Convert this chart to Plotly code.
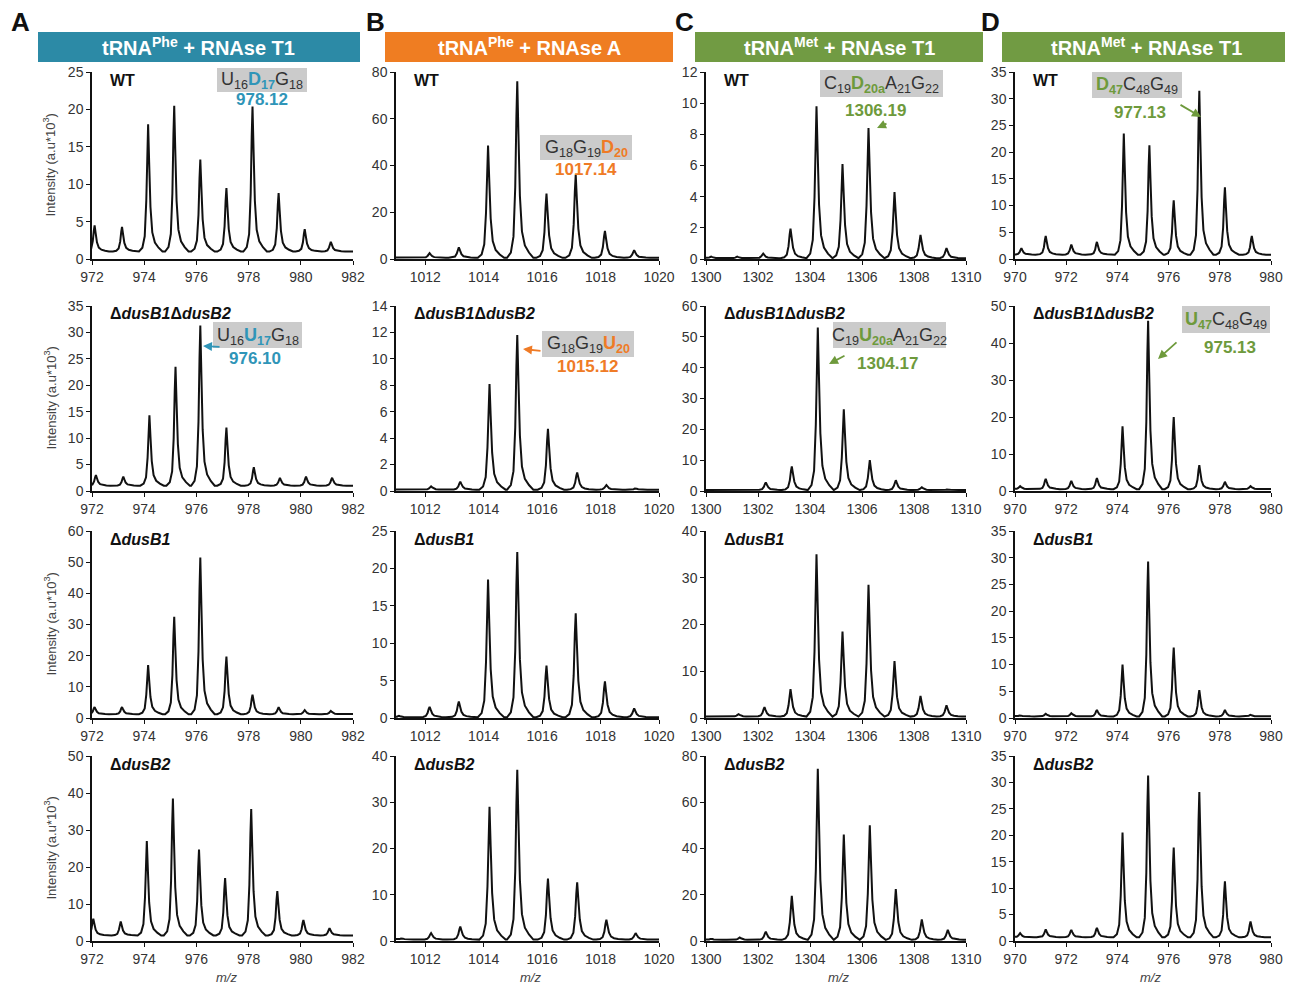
import plotly.graph_objects as go

# page body has an 8px margin, so the figure is drawn 8px in from the window edge
OFF = 8
W, H = 1293 - 2 * OFF, 994 - 2 * OFF


def px(x):
    return (x - OFF) / W


def py(y):
    return 1 - (y - OFF) / H


# ---------------- data: peak apex m/z and intensity (a.u*10^3) ----------------
# column A: tRNAPhe + RNAse T1
a_wt_mz = [972.1, 973.15, 974.15, 975.15, 976.15, 977.15, 978.15, 979.15, 980.15, 981.15]
a_wt_int = [4.5, 4.3, 18.0, 20.5, 13.3, 9.5, 20.4, 8.8, 4.0, 2.3]
a_b1b2_mz = [972.15, 973.2, 974.2, 975.2, 976.15, 977.15, 978.2, 979.2, 980.2, 981.2]
a_b1b2_int = [3.0, 2.7, 14.3, 23.5, 31.3, 12.0, 4.5, 2.5, 2.7, 2.5]
a_b1_mz = [972.1, 973.15, 974.15, 975.15, 976.15, 977.15, 978.15, 979.15, 980.15, 981.15]
a_b1_int = [3.5, 3.5, 17.0, 32.5, 51.5, 19.7, 7.5, 3.5, 2.5, 2.3]
a_b2_mz = [972.05, 973.1, 974.1, 975.1, 976.1, 977.1, 978.1, 979.1, 980.1, 981.1]
a_b2_int = [6.0, 5.3, 27.0, 38.5, 24.7, 17.0, 35.7, 13.5, 5.7, 3.5]
a_base = [1.0, 1.0, 1.2, 1.5]

# column B: tRNAPhe + RNAse A
b_wt_mz = [1012.15, 1013.15, 1014.15, 1015.15, 1016.15, 1017.15, 1018.15, 1019.15]
b_wt_int = [2.5, 5.0, 48.5, 76.0, 28.0, 36.0, 12.0, 3.8]
b_b1b2_mz = [1012.2, 1013.2, 1014.2, 1015.15, 1016.2, 1017.2, 1018.2, 1019.2]
b_b1b2_int = [0.35, 0.7, 8.1, 11.8, 4.7, 1.4, 0.45, 0.2]
b_b1_mz = [1011.1, 1012.15, 1013.15, 1014.15, 1015.15, 1016.15, 1017.15, 1018.15, 1019.15]
b_b1_int = [0.3, 1.5, 2.2, 18.5, 22.2, 7.0, 14.0, 4.9, 1.3]
b_b2_mz = [1011.2, 1012.2, 1013.2, 1014.2, 1015.15, 1016.2, 1017.2, 1018.2, 1019.2]
b_b2_int = [0.6, 1.7, 3.1, 29.0, 37.0, 13.5, 12.7, 4.6, 1.7]
b_base = [0.5, 0.1, 0.1, 0.3]

# column C: tRNAMet + RNAse T1 (C19D20aA21G22)
c_wt_mz = [1300.2, 1301.2, 1302.2, 1303.25, 1304.25, 1305.25, 1306.25, 1307.25, 1308.25, 1309.25]
c_wt_int = [0.15, 0.15, 0.35, 1.95, 9.8, 6.1, 8.4, 4.3, 1.55, 0.7]
c_b1b2_mz = [1300.3, 1301.3, 1302.3, 1303.3, 1304.3, 1305.3, 1306.3, 1307.3, 1308.3, 1309.3]
c_b1b2_int = [0.5, 0.5, 2.8, 8.0, 53.0, 26.5, 10.0, 3.5, 1.2, 0.5]
c_b1_mz = [1301.25, 1302.25, 1303.25, 1304.25, 1305.25, 1306.25, 1307.25, 1308.25, 1309.25]
c_b1_int = [0.8, 2.3, 6.2, 35.0, 18.5, 28.5, 12.2, 4.7, 2.7]
c_b2_mz = [1300.2, 1301.3, 1302.3, 1303.3, 1304.3, 1305.3, 1306.3, 1307.3, 1308.3, 1309.3]
c_b2_int = [1.0, 1.5, 4.0, 19.5, 74.5, 46.0, 50.0, 22.5, 9.3, 4.8]
c_base = [0.05, 0.3, 0.3, 0.5]

# column D: tRNAMet + RNAse T1 (D47C48G49)
d_wt_mz = [970.25, 971.2, 972.2, 973.2, 974.25, 975.25, 976.2, 977.2, 978.2, 979.25]
d_wt_int = [2.0, 4.3, 2.7, 3.2, 23.5, 21.3, 11.0, 31.5, 13.4, 4.3]
d_b1b2_mz = [970.2, 971.2, 972.2, 973.2, 974.2, 975.2, 976.2, 977.2, 978.2, 979.2]
d_b1b2_int = [1.3, 3.3, 2.7, 3.5, 17.5, 46.0, 20.0, 7.0, 2.5, 1.3]
d_b1_mz = [970.2, 971.2, 972.2, 973.2, 974.2, 975.2, 976.2, 977.2, 978.2, 979.2]
d_b1_int = [0.5, 0.8, 0.9, 1.5, 10.0, 29.3, 13.2, 5.2, 1.5, 0.6]
d_b2_mz = [970.2, 971.2, 972.2, 973.2, 974.2, 975.2, 976.2, 977.2, 978.2, 979.2]
d_b2_int = [1.5, 2.2, 2.1, 2.5, 20.5, 31.3, 17.7, 28.2, 11.3, 3.7]
d_base = [0.8, 0.5, 0.3, 0.7]

strains = ["WT", "ΔdusB1ΔdusB2", "ΔdusB1", "ΔdusB2"]
headers = ["tRNA<sup>Phe</sup> + RNAse T1", "tRNA<sup>Phe</sup> + RNAse A",
           "tRNA<sup>Met</sup> + RNAse T1", "tRNA<sup>Met</sup> + RNAse T1"]
x_ranges = [[972, 982], [1011, 1020], [1300, 1310], [970, 980]]
x_ticks = [[972, 974, 976, 978, 980, 982], [1012, 1014, 1016, 1018, 1020],
           [1300, 1302, 1304, 1306, 1308, 1310], [970, 972, 974, 976, 978, 980]]
y_max = [[25, 35, 60, 50], [80, 14, 25, 40], [12, 60, 40, 80], [35, 50, 35, 35]]
y_dtick = [[5, 5, 10, 10], [20, 2, 5, 10], [2, 10, 10, 20], [5, 10, 5, 5]]

peaks = [
    [(a_wt_mz, a_wt_int), (a_b1b2_mz, a_b1b2_int), (a_b1_mz, a_b1_int), (a_b2_mz, a_b2_int)],
    [(b_wt_mz, b_wt_int), (b_b1b2_mz, b_b1b2_int), (b_b1_mz, b_b1_int), (b_b2_mz, b_b2_int)],
    [(c_wt_mz, c_wt_int), (c_b1b2_mz, c_b1b2_int), (c_b1_mz, c_b1_int), (c_b2_mz, c_b2_int)],
    [(d_wt_mz, d_wt_int), (d_b1b2_mz, d_b1b2_int), (d_b1_mz, d_b1_int), (d_b2_mz, d_b2_int)],
]
bases = [a_base, b_base, c_base, d_base]

# ---------------- style ----------------
TEAL, TEAL_HDR = "#2f95b8", "#2c8aa6"
ORANGE, ORANGE_HDR = "#ef7b26", "#ef7d22"
GREEN, GREEN_HDR = "#6e9a3c", "#719b43"
hdr_colors = [TEAL_HDR, ORANGE_HDR, GREEN_HDR, GREEN_HDR]
FONT = "Arial, Liberation Sans, sans-serif"

# peak outline (relative m/z offset, fraction of apex height)
PROFILE_DX = [-0.35, -0.22, -0.13, -0.07, -0.03, 0.0, 0.04, 0.09, 0.16, 0.26, 0.40, 0.55]
PROFILE_FR = [0.0, 0.03, 0.12, 0.40, 0.80, 1.0, 0.70, 0.35, 0.15, 0.07, 0.03, 0.0]
col_width = [1.0, 1.0, 1.1, 1.0]

col_px = [(92, 353), (396, 659), (706, 966), (1015, 1271)]
row_px = [(72, 259), (306, 491), (531, 718), (756, 941)]


def spectrum(mz, inten, base, lo, hi, w):
    xs, ys = [lo - 1], [base]
    for c, h in zip(mz, inten):
        for dx, f in zip(PROFILE_DX, PROFILE_FR):
            xs.append(c + dx * w)
            ys.append(base + (h - base) * f)
    xs.append(hi + 1)
    ys.append(base)
    return xs, ys


def note(x, y, text, size, color="#111", xanchor="center", **kw):
    return dict(x=px(x), y=py(y), xref="paper", yref="paper", text=text, showarrow=False,
                xanchor=xanchor, yanchor="middle", font=dict(family=FONT, size=size, color=color), **kw)


fig = go.Figure()
layout = {}
shapes = []
annotations = []

for c in range(4):
    for r in range(4):
        k = r * 4 + c + 1
        sx = "" if k == 1 else str(k)
        mz, inten = peaks[c][r]
        xs, ys = spectrum(mz, inten, bases[c][r], x_ranges[c][0], x_ranges[c][1], col_width[c])
        fig.add_trace(go.Scatter(x=xs, y=ys, mode="lines", line=dict(color="#111", width=2),
                                 xaxis="x" + sx, yaxis="y" + sx, showlegend=False))
        axis_common = dict(showline=True, linecolor="#111", linewidth=1.5, showgrid=False,
                           zeroline=False, ticks="outside", ticklen=4, tickcolor="#111",
                           automargin=False,
                           tickfont=dict(family=FONT, size=14, color="#333"))
        layout["xaxis" + sx] = dict(axis_common, domain=[px(col_px[c][0]), px(col_px[c][1])],
                                    anchor="y" + sx, range=x_ranges[c], tickvals=x_ticks[c])
        layout["yaxis" + sx] = dict(axis_common, domain=[py(row_px[r][1]), py(row_px[r][0])],
                                    anchor="x" + sx, range=[0, y_max[c][r]], dtick=y_dtick[c][r])

        # strain label
        name = strains[r]
        if name == "WT":
            txt = "<b>WT</b>"
        else:
            txt = "<b>" + name.replace("Δ", "Δ<i>").replace("1Δ", "1</i>Δ") + "</i></b>"
        annotations.append(note(col_px[c][0] + 16, row_px[r][0] + 8, txt, 16, xanchor="left"))

    # column header
    x0 = [38, 385, 695, 1002][c]
    x1 = [360, 673, 983, 1290][c]
    shapes.append(dict(type="rect", xref="paper", yref="paper", x0=px(x0), x1=px(x1), y0=py(62), y1=py(32),
                       fillcolor=hdr_colors[c], opacity=1, line=dict(width=0), layer="below"))
    annotations.append(note((x0 + x1) / 2, 47, "<b>" + headers[c] + "</b>", 20, "white"))
    # panel letter
    annotations.append(note([20, 375, 685, 990][c], 22, "<b>" + "ABCD"[c] + "</b>", 26))
    # m/z label
    annotations.append(note([226, 530, 838, 1150][c], 977, "<i>m/z</i>", 13, "#444"))

for r in range(4):
    annotations.append(note(50, (row_px[r][0] + row_px[r][1]) / 2, "Intensity (a.u*10<sup>3</sup>)", 13,
                            "#444", textangle=-90))


def col(t, color):
    return "<span style='color:%s'><b>%s</b></span>" % (color, t)


# sequence boxes: (box x0, y0, x1, y1), sequence text, mass label pos, mass, colour
boxes = [
    ((217, 68, 307, 92), "U<sub>16</sub>" + col("D<sub>17</sub>", TEAL) + "G<sub>18</sub>", (262, 99), "978.12", TEAL),
    ((213, 322, 302, 348), "U<sub>16</sub>" + col("U<sub>17</sub>", TEAL) + "G<sub>18</sub>", (255, 358), "976.10", TEAL),
    ((540, 135, 632, 160), "G<sub>18</sub>G<sub>19</sub>" + col("D<sub>20</sub>", ORANGE), (586, 170), "1017.14", ORANGE),
    ((542, 331, 634, 357), "G<sub>18</sub>G<sub>19</sub>" + col("U<sub>20</sub>", ORANGE), (587, 366), "1015.12", ORANGE),
    ((820, 70, 943, 97), "C<sub>19</sub>" + col("D<sub>20a</sub>", GREEN) + "A<sub>21</sub>G<sub>22</sub>", (875, 111), "1306.19", GREEN),
    ((833, 322, 946, 348), "C<sub>19</sub>" + col("U<sub>20a</sub>", GREEN) + "A<sub>21</sub>G<sub>22</sub>", (887, 363), "1304.17", GREEN),
    ((1092, 72, 1182, 98), col("D<sub>47</sub>", GREEN) + "C<sub>48</sub>G<sub>49</sub>", (1140, 112), "977.13", GREEN),
    ((1182, 306, 1270, 333), col("U<sub>47</sub>", GREEN) + "C<sub>48</sub>G<sub>49</sub>", (1230, 347), "975.13", GREEN),
]
for (bx0, by0, bx1, by1), seq, (mx, my), mass, color in boxes:
    shapes.append(dict(type="rect", xref="paper", yref="paper", x0=px(bx0), x1=px(bx1), y0=py(by1), y1=py(by0),
                       fillcolor="#cbcbcb", opacity=1, line=dict(width=0), layer="below"))
    annotations.append(note((bx0 + bx1) / 2, (by0 + by1) / 2 + 1, seq, 18, "#333"))
    annotations.append(note(mx, my, "<b>" + mass + "</b>", 17, color))

# arrows: head (px), tail offset (px), colour
arrows = [
    ((203, 346), (18, 1), TEAL),
    ((523, 349), (19, 2), ORANGE),
    ((877, 128), (11, -5), GREEN),
    ((829, 364), (17, -9), GREEN),
    ((1201, 117), (-22, -13), GREEN),
    ((1158, 359), (20, -18), GREEN),
]
for (hx, hy), (ax, ay), color in arrows:
    annotations.append(dict(x=px(hx), y=py(hy), xref="paper", yref="paper", text="", showarrow=True,
                            ax=ax, ay=ay, arrowhead=2, arrowsize=1, arrowwidth=1.8, arrowcolor=color,
                            standoff=0))

fig.update_layout(**layout)
fig.update_layout(width=W, height=H, margin=dict(l=0, r=0, t=0, b=0, autoexpand=False),
                  paper_bgcolor="white", plot_bgcolor="white", template="none",
                  shapes=shapes, annotations=annotations, showlegend=False)

fig.write_html("out.html")
